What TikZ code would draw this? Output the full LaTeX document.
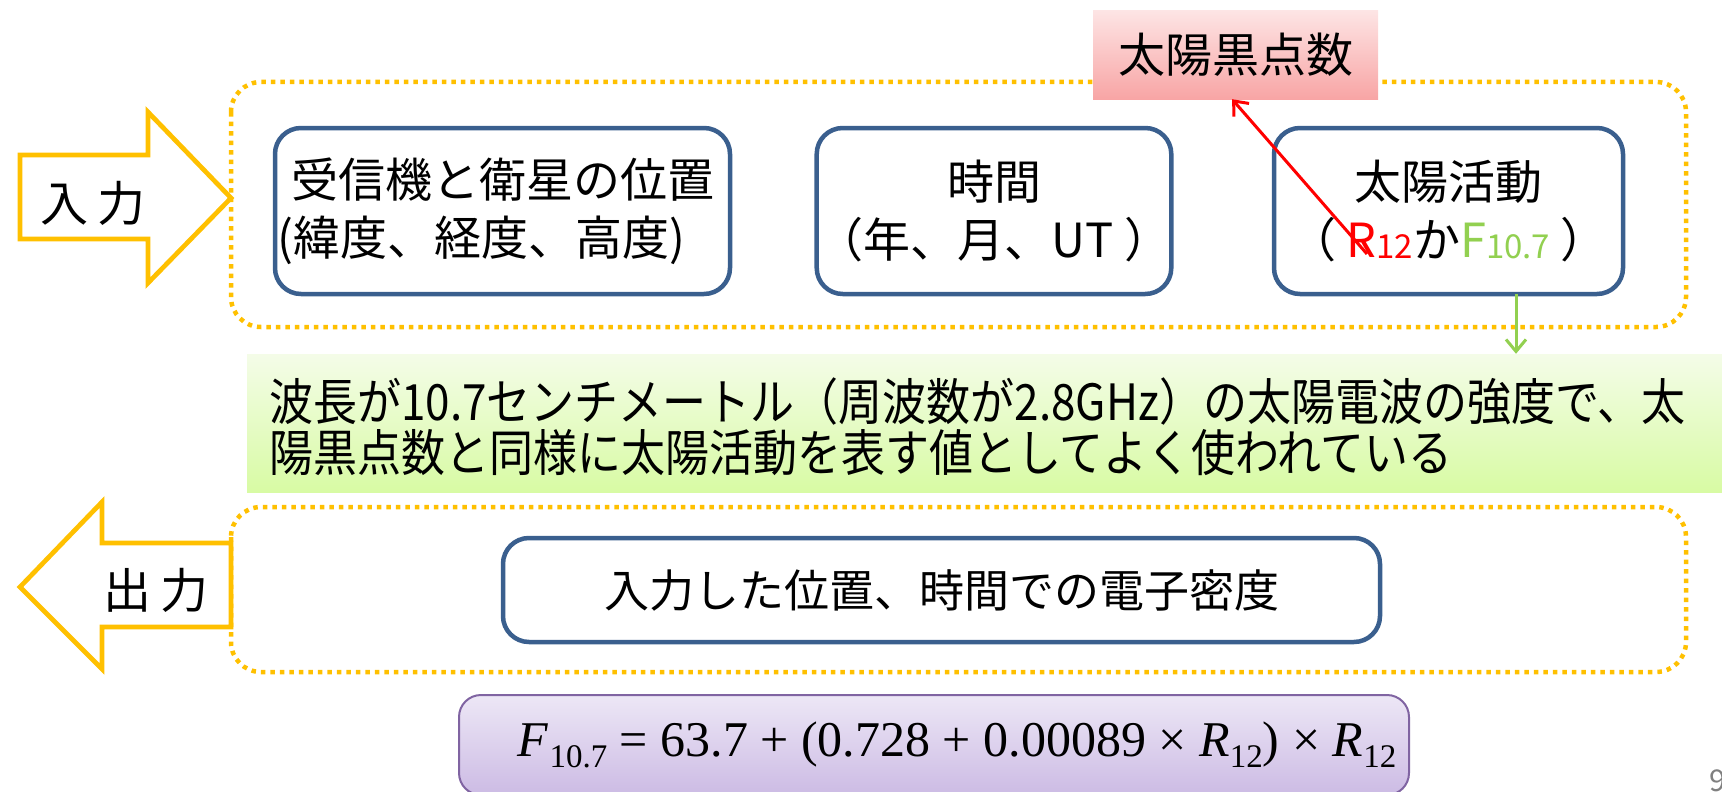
\documentclass[tikz,border=0pt]{standalone}
\usepackage{fontspec}
\setmainfont{Noto Sans CJK JP}
\newfontfamily\tnr{Liberation Serif}
\usetikzlibrary{arrows.meta,calc}
\definecolor{gold}{HTML}{FFC000}
\definecolor{navy}{HTML}{3A5F8E}
\definecolor{leaf}{HTML}{92D050}
\definecolor{lav}{HTML}{8064A2}
\definecolor{pinktop}{HTML}{FDE4E4}
\definecolor{pinkbot}{HTML}{F8A5A5}
\definecolor{greentop}{HTML}{F4FCE8}
\definecolor{greenbot}{HTML}{D8FBA4}
\definecolor{lavtop}{HTML}{EDE7F6}
\definecolor{lavbot}{HTML}{CCBBE4}
\newcommand{\fsz}[1]{\fontsize{#1}{#1}\selectfont}
\newcommand{\lowsub}[1]{\raisebox{-11pt}{\fontsize{33}{33}\selectfont #1}}
\newcommand{\smallsub}[1]{\raisebox{-1pt}{\fontsize{33}{33}\selectfont #1}}
\begin{document}
\begin{tikzpicture}[x=1pt,y=-1pt,
  blockarrow/.style={draw=gold,line width=4.7pt,line join=miter,fill=white},
  dotbox/.style={draw=gold,line width=4.5pt,dash pattern=on 4.5pt off 5pt,rounded corners=30pt},
  bluebox/.style={draw=navy,line width=4.5pt,rounded corners=26pt,fill=white,align=center,
    inner sep=0pt,font=\fontsize{47}{58}\selectfont},
  lbl/.style={inner sep=0pt,font=\fontsize{48}{48}\selectfont},
  link/.style={line width=3pt,-{Straight Barb[length=12pt,width=20pt,line width=3pt]}}
]
\useasboundingbox (0,0) rectangle (1722,792);
% dotted frames
\draw[dotbox] (231,82) rectangle (1686,327);
\draw[dotbox] (231,507) rectangle (1686,672);
% block arrows
\draw[blockarrow] (20,155) -- (148,155) -- (148,112) -- (231,198) -- (148,283) -- (148,239) -- (20,239) -- cycle;
\draw[blockarrow] (20,587) -- (102,502) -- (102,543) -- (231,543) -- (231,627) -- (102,627) -- (102,669) -- cycle;
\node[lbl] (inp) at (93,203) {入\hspace{9pt}力};
\node[lbl] (outp) at (156,590) {出\hspace{9pt}力};
% input boxes
\node[bluebox,minimum width=455pt,minimum height=166pt] (pos) at (502.5,211)
  {受信機と衛星の位置\\\hspace*{-42pt}(緯度、経度、高度)};
\node[bluebox,minimum width=346pt,minimum height=166pt] (time) at (994,211)
  {時間\\（年、月、UT ）};
\node[bluebox,minimum width=349pt,minimum height=166pt] (sol) at (1448.5,211)
  {太陽活動\\（ \textcolor{red}{R\smallsub{12}}か\textcolor{leaf}{F\smallsub{10.7}} ）};
% sunspot box
\node[inner sep=0pt,minimum width=285pt,minimum height=88pt,top color=pinktop,bottom color=pinkbot,
  font=\fontsize{47}{47}\selectfont] (sun) at (1235.5,55) {太陽黒点数};
% green explanation box
\node[inner sep=0pt,minimum width=1475pt,minimum height=138pt,top color=greentop,bottom color=greenbot]
  (expl) at (984.5,423) {};
\node[inner sep=0pt,anchor=west,font=\fontsize{50}{50}\selectfont] (e1) at (269,401)
  {\scalebox{0.88}[1]{波長が10.7センチメートル（周波数が2.8GHz）の太陽電波の強度で、太}};
\node[inner sep=0pt,anchor=west,font=\fontsize{50}{50}\selectfont] (e2) at (269,453)
  {\scalebox{0.88}[1]{陽黒点数と同様に太陽活動を表す値としてよく使われている}};
% output box
\node[bluebox,minimum width=877pt,minimum height=104pt,font=\fontsize{45}{45}\selectfont] (dens) at (941.5,590)
  {入力した位置、時間での電子密度};
% formula box
\node[draw=lav,line width=2pt,rounded corners=22pt,top color=lavtop,bottom color=lavbot,
  minimum width=950pt,minimum height=100pt,inner sep=0pt] (form) at (934,745)
  {\tnr\fsz{50}\hspace{46pt}\textit{F}\kern1pt\lowsub{10.7}\ =\ 63.7\ +\ (0.728\ +\ 0.00089\ ×\ \textit{R}\lowsub{12})\ ×\ \textit{R}\lowsub{12}};
% page number
\node[inner sep=0pt,anchor=west,text=gray,font=\fontsize{30}{30}\selectfont] (pg) at (1709,781) {9};
% connectors
\coordinate (rstart) at (1367,254);
\draw[link,red] (rstart) -- ($(sun.south west)!0.488!(sun.south east)$);
\coordinate (gstart) at (1516,294);
\draw[link,leaf] (gstart) -- (gstart |- expl.north);
\end{tikzpicture}
\end{document}
